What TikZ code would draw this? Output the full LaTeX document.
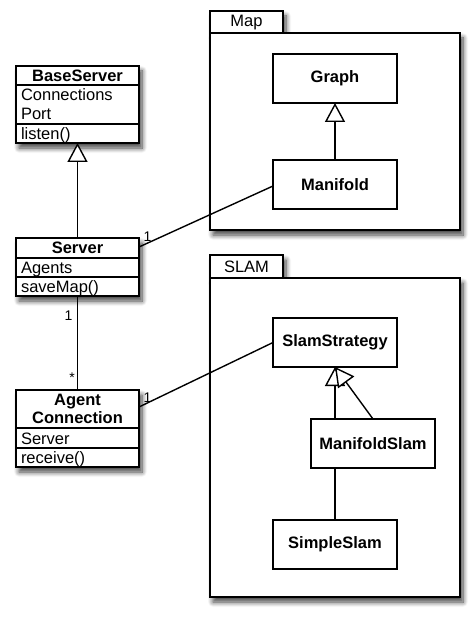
\documentclass[tikz,border=0pt]{standalone}
\usepackage{fontspec}
\setmainfont{Liberation Sans}
\usetikzlibrary{arrows.meta,shadows.blur}
\begin{document}
\begin{tikzpicture}[x=1pt,y=-1pt,
  every node/.style={inner sep=0pt,outer sep=0pt},
  txt/.style={font=\fontsize{16.5}{19}\selectfont},
  btxt/.style={font=\fontsize{16.5}{19}\selectfont\bfseries},
  mult/.style={font=\fontsize{14}{16}\selectfont},
  shad/.style={blur shadow={shadow xshift=3pt,shadow yshift=-5pt,shadow blur radius=5pt,shadow opacity=75,shadow blur steps=8}},
  classbox/.style={draw,line width=1.6pt,fill=white,shad},
  innerbox/.style={draw,line width=1.4pt,fill=white,minimum width=124pt,minimum height=49pt,btxt},
  pkg/.style={draw,line width=1.5pt,fill=white,shad},
  divider/.style={line width=1.3pt},
  edge/.style={line width=1.4pt},
  inherit/.style={line width=1.4pt,-{Triangle[open,length=19pt,width=20pt,fill=white]}}
]
\useasboundingbox (0,0) rectangle (474,617);

% ---------- packages ----------
\node[pkg,minimum width=73pt,minimum height=22pt,anchor=north west] (maptab) at (210,11) {};
\node[txt] (maplbl) at (246.5,22.5) {Map};
\node[pkg,minimum width=250pt,minimum height=197pt,anchor=north west] (mappkg) at (210,33) {};

\node[pkg,minimum width=73pt,minimum height=23pt,anchor=north west] (slamtab) at (210,255) {};
\node[txt] (slamlbl) at (246.5,266.5) {SLAM};
\node[pkg,minimum width=250pt,minimum height=319pt,anchor=north west] (slampkg) at (210,278) {};

% ---------- inner classes ----------
\node[innerbox] (graph) at (335,78.5) {Graph};
\node[innerbox] (manifold) at (335,184.5) {Manifold};
\node[innerbox] (ss) at (335,342.5) {SlamStrategy};
\node[innerbox] (ms) at (373,443.5) {ManifoldSlam};
\node[innerbox] (simple) at (335,544.5) {SimpleSlam};

% ---------- BaseServer ----------
\node[classbox,minimum width=123pt,minimum height=77pt,anchor=north west] (base) at (16,66) {};
\draw[divider] (16,85) -- (139,85);
\draw[divider] (16,124) -- (139,124);
\node[btxt,anchor=base] (basename) at (77.5,82) {BaseServer};
\node[txt,anchor=base west] (basea1) at (21,101) {Connections};
\node[txt,anchor=base west] (basea2) at (21,120) {Port};
\node[txt,anchor=base west] (basem1) at (21,139.5) {listen()};

% ---------- Server ----------
\node[classbox,minimum width=123pt,minimum height=58pt,anchor=north west] (server) at (16,238) {};
\draw[divider] (16,258) -- (139,258);
\draw[divider] (16,277) -- (139,277);
\node[btxt,anchor=base] (servername) at (77.5,253.5) {Server};
\node[txt,anchor=base west] (servera1) at (21,273.5) {Agents};
\node[txt,anchor=base west] (serverm1) at (21,292.5) {saveMap()};

% ---------- Agent Connection ----------
\node[classbox,minimum width=123pt,minimum height=77pt,anchor=north west] (agent) at (16,390) {};
\draw[divider] (16,428) -- (139,428);
\draw[divider] (16,448) -- (139,448);
\node[btxt,anchor=base] (agentname1) at (77.5,405.5) {Agent};
\node[btxt,anchor=base] (agentname2) at (77.5,423.5) {Connection};
\node[txt,anchor=base west] (agenta1) at (21,444) {Server};
\node[txt,anchor=base west] (agentm1) at (21,463.5) {receive()};

% ---------- connectors ----------
\draw[inherit] (server.north) -- (base.south);
\draw[inherit] (manifold.north) -- (graph.south);
\draw[edge] ([yshift=-9pt]server.north east) -- ([yshift=-1.5pt]manifold.west);
\draw[edge] (server.south) -- (agent.north);
\draw[edge] ([yshift=-17pt]agent.north east) -- (ss.west);
\draw[inherit] (ms.north -| ss.south) -- (ss.south);
\draw[inherit] (ms.north) -- (ss.south);
\draw[edge] (simple.north) -- (simple.north |- ms.south);

% ---------- multiplicities ----------
\node[mult] (m1) at (147.5,236.5) {1};
\node[mult] (m2) at (68.5,316) {1};
\node[mult] (m3) at (72,378) {*};
\node[mult] (m4) at (147.5,397.5) {1};
\end{tikzpicture}
\end{document}
